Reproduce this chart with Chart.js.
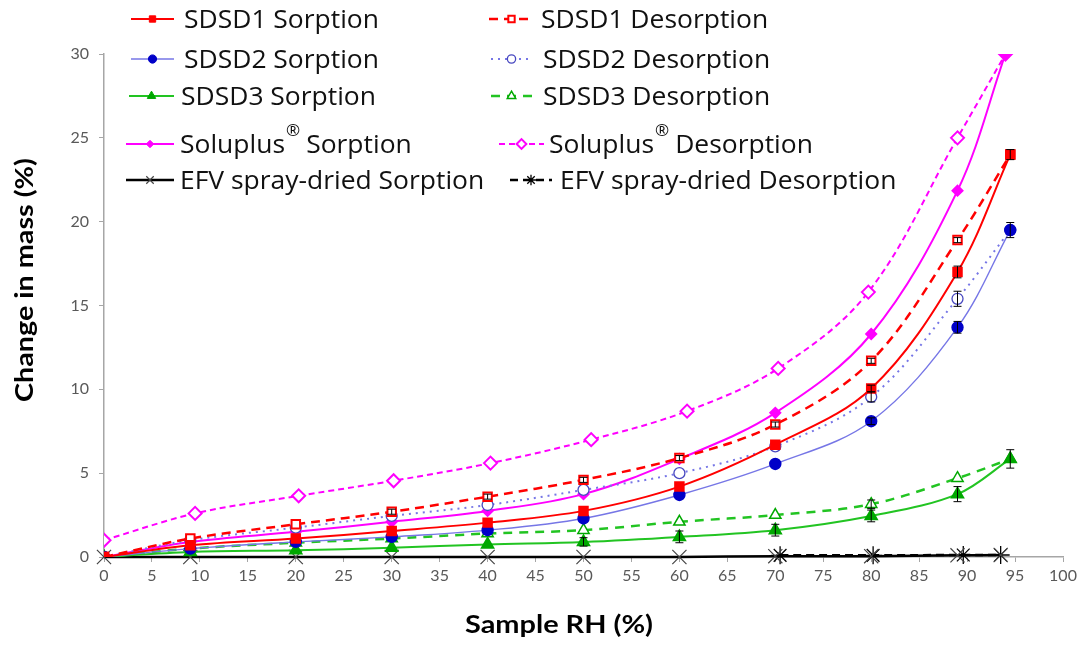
<!DOCTYPE html>
<html>
<head>
<meta charset="utf-8">
<script src="https://cdn.jsdelivr.net/npm/chart.js@4.4.0/dist/chart.umd.min.js"></script>
<style>
  html, body { margin: 0; padding: 0; background: #fff; }
  #wrap { position: relative; width: 1083px; height: 646px; }
</style>
</head>
<body>
<div id="wrap"><canvas id="dvsChart" width="1083" height="646"></canvas></div>
<script>
// RH steps (%)
const rhSteps = [0, 9, 20, 30, 40, 50, 60, 70, 80, 89, 94.5];
const rhSolu = [0, 9, 20, 30, 40, 50, 60, 70, 80, 89, 94];
const rhSoluDes = [0, 9.5, 20.3, 30.2, 40.3, 50.8, 60.8, 70.3, 79.7, 89, 94];
const rhEfv = [0, 9, 20, 30, 40, 50, 60, 70, 80, 89, 93.5];
const rhEfvDes = [70.5, 80.2, 89.6, 93.5];

// change in mass (%)
const sdsd1Sorp = [0, 0.7, 1.1, 1.55, 2.05, 2.75, 4.2, 6.7, 10.05, 17.0, 24.0];
const sdsd1Des = [0, 1.1, 1.95, 2.7, 3.6, 4.6, 5.9, 7.9, 11.7, 18.9, 24.0];
const sdsd2Sorp = [0, 0.5, 0.9, 1.2, 1.6, 2.3, 3.7, 5.55, 8.1, 13.7, 19.5];
const sdsd2Des = [0, 1.0, 1.75, 2.45, 3.1, 4.0, 5.0, 6.6, 9.55, 15.4, 19.5];
const sdsd3Sorp = [0, 0.3, 0.4, 0.55, 0.75, 0.9, 1.2, 1.6, 2.45, 3.75, 5.85];
const sdsd3Des = [0, 0.5, 0.85, 1.1, 1.4, 1.6, 2.1, 2.5, 3.15, 4.7, 5.85];
const soluSorp = [0, 0.9, 1.5, 2.1, 2.75, 3.75, 5.85, 8.6, 13.3, 21.85, 30.0];
const soluDes = [1.0, 2.6, 3.65, 4.55, 5.6, 7.0, 8.7, 11.25, 15.8, 25.0, 30.0];
const efvSorp = [0, 0, 0, 0, 0, 0, 0, 0.05, 0.05, 0.1, 0.12];
const efvDes = [0.1, 0.1, 0.12, 0.12];

// error bars (+/- %)
const sdsd1SorpErr = [0, 0, 0, 0, 0, 0, 0, 0, 0.2, 0.35, 0.3];
const sdsd1DesErr = [0, 0, 0, 0.15, 0.15, 0.15, 0.15, 0.15, 0.15, 0.15, 0];
const sdsd2SorpErr = [0, 0, 0, 0, 0, 0, 0, 0, 0.2, 0.35, 0.45];
const sdsd2DesErr = [0, 0, 0, 0, 0, 0, 0, 0, 0.3, 0.45, 0];
const sdsd3SorpErr = [0, 0, 0, 0, 0, 0.25, 0.35, 0.35, 0.35, 0.45, 0.55];
const sdsd3DesErr = [0, 0, 0, 0, 0, 0, 0, 0, 0.25, 0, 0];

const xTicks = [0, 5, 10, 15, 20, 25, 30, 35, 40, 45, 50, 55, 60, 65, 70, 75, 80, 85, 90, 95, 100];
const yTicks = [0, 5, 10, 15, 20, 25, 30];

const RED = "#ff0000", BLUE_LINE = "#7676e6", BLUE = "#0000c8", GREEN = "#22c422", GREEN_M = "#00a800", MAG = "#ff00ff";

function pts(xs, ys) {
    return xs.map((x, i) => ({ x: x, y: ys[i] }));
}

// -----------------------------
// Datasets
// -----------------------------
const datasets = [
    { label: "SDSD1 Sorption", data: pts(rhSteps, sdsd1Sorp), errors: sdsd1SorpErr,
      borderColor: RED, borderWidth: 2, pointStyle: "rect", pointRadius: 6,
      pointBackgroundColor: RED, pointBorderColor: RED },
    { label: "SDSD1 Desorption", data: pts(rhSteps, sdsd1Des), errors: sdsd1DesErr,
      borderColor: RED, borderWidth: 2.5, borderDash: [9, 6], pointStyle: "rect", pointRadius: 6,
      pointBackgroundColor: "#ffffff", pointBorderColor: RED, pointBorderWidth: 2 },
    { label: "SDSD2 Sorption", data: pts(rhSteps, sdsd2Sorp), errors: sdsd2SorpErr,
      borderColor: BLUE_LINE, borderWidth: 1.4, pointStyle: "circle", pointRadius: 5.5,
      pointBackgroundColor: BLUE, pointBorderColor: BLUE },
    { label: "SDSD2 Desorption", data: pts(rhSteps, sdsd2Des), errors: sdsd2DesErr,
      borderColor: BLUE_LINE, borderWidth: 2, borderDash: [2, 5], pointStyle: "circle", pointRadius: 5.5,
      pointBackgroundColor: "#ffffff", pointBorderColor: "#4848c0", pointBorderWidth: 1.3 },
    { label: "SDSD3 Sorption", data: pts(rhSteps, sdsd3Sorp), errors: sdsd3SorpErr,
      borderColor: GREEN, borderWidth: 2, pointStyle: "triangle", pointRadius: 6.5,
      pointBackgroundColor: GREEN_M, pointBorderColor: GREEN_M },
    { label: "SDSD3 Desorption", data: pts(rhSteps, sdsd3Des), errors: sdsd3DesErr,
      borderColor: GREEN, borderWidth: 2.5, borderDash: [9, 7], pointStyle: "triangle", pointRadius: 6.5,
      pointBackgroundColor: "#ffffff", pointBorderColor: GREEN_M, pointBorderWidth: 1.5 },
    { label: "Soluplus Sorption", sup: true, data: pts(rhSolu, soluSorp),
      borderColor: MAG, borderWidth: 2, pointStyle: "rectRot", pointRadius: 5,
      pointBackgroundColor: MAG, pointBorderColor: MAG },
    { label: "Soluplus Desorption", sup: true, data: pts(rhSoluDes, soluDes),
      borderColor: MAG, borderWidth: 2, borderDash: [6, 4], pointStyle: "rectRot", pointRadius: 6.5,
      pointBackgroundColor: "#ffffff", pointBorderColor: MAG, pointBorderWidth: 2 },
    { label: "EFV spray-dried Sorption", data: pts(rhEfv, efvSorp), clip: 8,
      borderColor: "#000000", borderWidth: 2.5, pointStyle: "crossRot", pointRadius: 10,
      pointBackgroundColor: "#000000", pointBorderColor: "#444444", pointBorderWidth: 1.2 },
    { label: "EFV spray-dried Desorption", data: pts(rhEfvDes, efvDes), clip: 8,
      borderColor: "#000000", borderWidth: 2.5, borderDash: [8, 5], pointStyle: "star", pointRadius: 9,
      pointBackgroundColor: "#000000", pointBorderColor: "#000000", pointBorderWidth: 1.3 }
];
datasets.forEach(d => { d.fill = false; d.tension = 0.35; d.pointHoverRadius = d.pointRadius; });

// -----------------------------
// Plugins: error bars, legend and axis titles
// -----------------------------
const errorBars = {
    id: "errorBars",
    afterDatasetsDraw(chart) {
        const ctx = chart.ctx;
        const yScale = chart.scales.y;
        ctx.save();
        ctx.strokeStyle = "#000";
        ctx.lineWidth = 1;
        chart.data.datasets.forEach((ds, di) => {
            if (!ds.errors) return;
            const meta = chart.getDatasetMeta(di);
            ds.errors.forEach((e, i) => {
                if (!e) return;
                const p = meta.data[i];
                const v = ds.data[i].y;
                const y1 = yScale.getPixelForValue(v + e);
                const y2 = yScale.getPixelForValue(v - e);
                ctx.beginPath();
                ctx.moveTo(p.x, y1); ctx.lineTo(p.x, y2);
                ctx.moveTo(p.x - 4, y1); ctx.lineTo(p.x + 4, y1);
                ctx.moveTo(p.x - 4, y2); ctx.lineTo(p.x + 4, y2);
                ctx.stroke();
            });
        });
        ctx.restore();
    }
};

// legend slots: [lineStart, lineEnd, textX, baseline]
const legendSlots = [
    [131, 174, 184, 28], [489, 534, 541, 28],
    [131, 174, 184, 68], [491, 532, 543, 68],
    [129, 174, 181, 105], [491, 532, 543, 105],
    [126, 174, 180, 153], [499, 544, 549, 153],
    [126, 174, 180, 189], [510, 552, 560, 189]
];

function stretchedText(ctx, text, x, y, sx) {
    ctx.save();
    ctx.translate(x, y);
    ctx.scale(sx, 1);
    ctx.fillText(text, 0, 0);
    ctx.restore();
    return ctx.measureText(text).width * sx;
}

const customLegend = {
    id: "customLegend",
    afterDraw(chart) {
        const ctx = chart.ctx;
        ctx.save();
        const legendFont = '25px "Open Sans"';
        ctx.font = legendFont;
        const sx = 195 / ctx.measureText("SDSD1 Sorption").width;
        chart.data.datasets.forEach((ds, i) => {
            const [x0, x1, tx, base] = legendSlots[i];
            const y = base - 9;
            ctx.strokeStyle = ds.borderColor;
            ctx.lineWidth = ds.borderWidth;
            ctx.setLineDash(ds.borderDash || []);
            ctx.beginPath();
            ctx.moveTo(x0, y); ctx.lineTo(x1, y);
            ctx.stroke();
            ctx.setLineDash([]);
            ctx.fillStyle = ds.pointBackgroundColor;
            ctx.strokeStyle = ds.pointBorderColor;
            ctx.lineWidth = ds.pointBorderWidth || 1;
            Chart.helpers.drawPoint(ctx, { pointStyle: ds.pointStyle, radius: Math.min(ds.pointRadius, 7) * 0.75, rotation: 0, borderWidth: ds.pointBorderWidth || 1 }, (x0 + x1) / 2, y);

            ctx.fillStyle = "#111111";
            ctx.font = legendFont;
            ctx.textBaseline = "alphabetic";
            if (ds.sup) {
                const parts = ds.label.split(" ");
                const w = stretchedText(ctx, parts[0], tx, base, sx);
                ctx.font = '17px "Open Sans"';
                const wr = stretchedText(ctx, "®", tx + w + 1, base - 17, 1);
                ctx.font = legendFont;
                stretchedText(ctx, parts[1], tx + w + wr + 7, base, sx);
            } else {
                stretchedText(ctx, ds.label, tx, base, sx);
            }
        });

        // axis titles
        ctx.fillStyle = "#000";
        ctx.font = "bold 25px Lato";
        ctx.textAlign = "left";
        ctx.textBaseline = "alphabetic";
        const xt = "Sample RH (%)";
        const xsx = 188 / ctx.measureText(xt).width;
        stretchedText(ctx, xt, 465, 633, xsx);
        const yt = "Change in mass (%)";
        const ysx = 244 / ctx.measureText(yt).width;
        ctx.translate(33, 402);
        ctx.rotate(-Math.PI / 2);
        stretchedText(ctx, yt, 0, 0, ysx);
        ctx.restore();
    }
};

// -----------------------------
// Chart
// -----------------------------
const ctx = document.getElementById("dvsChart").getContext("2d");
const dvsChart = new Chart(ctx, {
    type: "line",
    data: { datasets },
    plugins: [errorBars, customLegend],
    options: {
        responsive: false,
        animation: false,
        layout: { padding: { top: 54, right: 20, left: 0, bottom: 0 } },
        plugins: { legend: { display: false }, tooltip: { enabled: false } },
        scales: {
            x: {
                type: "linear", min: 0, max: 100,
                afterBuildTicks: s => { s.ticks = xTicks.map(v => ({ value: v })); },
                afterFit: s => { s.height = 89; },
                grid: { drawOnChartArea: false, drawTicks: true, tickLength: 5, color: "#a6a6a6" },
                border: { color: "#a6a6a6", width: 1.5 },
                ticks: { color: "#595959", font: { family: "Lato", size: 16 }, padding: 4, maxRotation: 0, autoSkip: false }
            },
            y: {
                min: 0, max: 30,
                afterBuildTicks: s => { s.ticks = yTicks.map(v => ({ value: v })); },
                afterFit: s => { s.width = 104; },
                grid: { drawOnChartArea: false, drawTicks: true, tickLength: 5, color: "#a6a6a6" },
                border: { color: "#a6a6a6", width: 1.5 },
                ticks: { color: "#595959", font: { family: "Lato", size: 16 }, padding: 10 }
            }
        }
    }
});
</script>
</body>
</html>
